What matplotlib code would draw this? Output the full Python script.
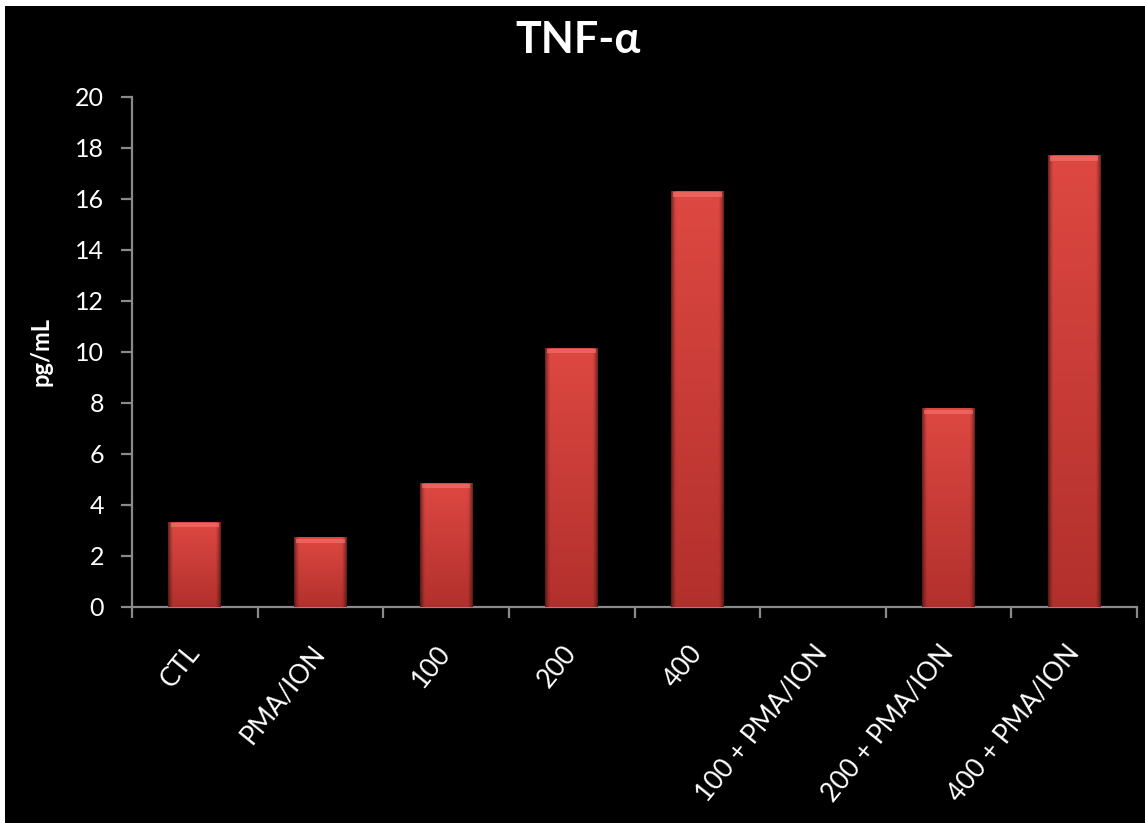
import numpy as np
import matplotlib
matplotlib.use("Agg")
import matplotlib.pyplot as plt
from matplotlib.patches import Rectangle

# TNF-alpha concentration per treatment group
categories = ["CTL", "PMA/ION", "100", "200", "400",
              "100 + PMA/ION", "200 + PMA/ION", "400 + PMA/ION"]
tnf_alpha = [3.33, 2.72, 4.86, 10.16, 16.30, 0.0, 7.78, 17.71]
y_ticks = [0, 2, 4, 6, 8, 10, 12, 14, 16, 18, 20]

plt.rcParams["font.family"] = ["Lato", "DejaVu Sans"]

W, H = 1145, 823
fig = plt.figure(figsize=(W / 100, H / 100), dpi=100, facecolor="black")
# thin white margin along the top and left edges
for rect in [(0, 1 - 6 / H, 1, 6 / H), (0, 0, 5 / W, 1)]:
    fig.patches.append(Rectangle(rect[:2], rect[2], rect[3],
                                 transform=fig.transFigure, facecolor="white",
                                 edgecolor="none", zorder=-1))

ax = fig.add_axes([132 / W, 1 - 606.7 / H, (1137 - 132) / W, (606.7 - 96.7) / H])
ax.set_facecolor("none")

x = np.arange(len(categories))
bars = ax.bar(x, tnf_alpha, width=0.42, color="#d8433d", zorder=2)


def bar_shading(h_px=200, w_px=60):
    """RGB image: vertical red gradient, dark side glow."""
    yy = np.linspace(0, 1, h_px)[:, None]          # 0 = top, 1 = bottom
    xx = np.linspace(-1, 1, w_px)[None, :]
    top = np.array([222, 72, 66]) / 255
    bottom = np.array([178, 48, 44]) / 255
    base = top[None, None, :] * (1 - yy[..., None]) + bottom[None, None, :] * yy[..., None]
    edge = np.clip((np.abs(xx) - 0.80) / 0.20, 0, 1) ** 1.5
    img = base * (1 - 0.5 * edge[..., None])
    return np.clip(img, 0, 1)


for b in bars:
    h = b.get_height()
    if h <= 0:
        continue
    x0 = b.get_x()
    w = b.get_width()
    img = bar_shading()
    im = ax.imshow(img, extent=(x0, x0 + w, 0, h), aspect="auto",
                   interpolation="bilinear", zorder=3)
    im.set_clip_path(b)
    # lighter rim along the top edge of the bar
    rim = 0.22
    ax.add_patch(Rectangle((x0 + w * 0.04, h - rim), w * 0.92, rim * 0.75,
                           facecolor="#f07068", edgecolor="none",
                           alpha=0.7, zorder=4))

ax.set_xlim(-0.5, len(categories) - 0.5)
ax.set_ylim(0, 20)
ax.set_yticks(y_ticks)
ax.set_yticklabels([str(v) for v in y_ticks])

ax.set_xticks(x)
ax.set_xticklabels(categories, rotation=51, ha="right", va="center",
                   rotation_mode="anchor")
ax.set_xticks(np.arange(len(categories) + 1) - 0.5, minor=True)

for s in ("top", "right"):
    ax.spines[s].set_visible(False)
for s in ("left", "bottom"):
    ax.spines[s].set_color("#8a8a8a")
    ax.spines[s].set_linewidth(1.6)

ax.tick_params(axis="y", colors="#8a8a8a", length=8, width=1.6, direction="out",
               labelcolor="white", labelsize=18, pad=12)
ax.tick_params(axis="x", which="major", length=0, labelcolor="white",
               labelsize=19, pad=30)
ax.tick_params(axis="x", which="minor", colors="#8a8a8a", length=8, width=1.6,
               direction="out")

ax.set_ylabel("pg/mL", color="white", fontsize=17, fontweight="bold", labelpad=16)
fig.text(0.505, 1 - 40 / H, "TNF-α", color="white", fontsize=31,
         fontweight="bold", ha="center", va="center")

fig.savefig("out.png", dpi=100, facecolor=fig.get_facecolor())
